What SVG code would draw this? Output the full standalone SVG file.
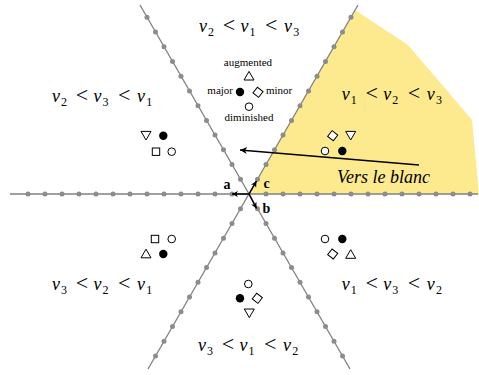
<svg xmlns="http://www.w3.org/2000/svg" xmlns:xlink="http://www.w3.org/1999/xlink" width="479" height="375" viewBox="0 0 479 375">
<style>
.ax{stroke:#808080;stroke-width:1.3;fill:none}
.dot{fill:#8c8c8c}
.vec{stroke:#000;stroke-width:1.5;fill:none}
.m{font-family:"Liberation Serif","DejaVu Serif",serif;fill:#000}
.v{font-style:italic;font-size:18px}
.s{font-size:12px}
.r{font-size:22px}
.lg{font-family:"Liberation Serif","DejaVu Serif",serif;font-size:11px;fill:#000}
.bl{font-family:"Liberation Serif","DejaVu Serif",serif;font-size:14px;font-weight:bold;fill:#000}
.vb{font-family:"Liberation Serif","DejaVu Serif",serif;font-size:18px;font-style:italic;fill:#000}
.sym{stroke:#000;stroke-width:1;fill:#fff}
.fill{fill:#000}
</style>
<defs>
<marker id="ah" markerWidth="10" markerHeight="10" viewBox="-8 -5 10 10" refX="0" refY="0" orient="auto" markerUnits="userSpaceOnUse">
<path d="M0,0 L-7,-3.5 L-5,0 L-7,3.5 Z" fill="#000"/>
</marker>
<marker id="ahs" markerWidth="8" markerHeight="8" viewBox="-7 -4 8 8" refX="0" refY="0" orient="auto" markerUnits="userSpaceOnUse">
<path d="M0,0 L-6,-3 L-4.3,0 L-6,3 Z" fill="#000"/>
</marker>
<circle id="fc" r="4.2" class="fill"/>
<circle id="oc" r="3.8" class="sym"/>
<polygon id="tu" points="0,-4.3 5,4.3 -5,4.3" class="sym"/>
<polygon id="td" points="-5,-4.3 5,-4.3 0,4.3" class="sym"/>
<rect id="sq" x="-3.7" y="-3.7" width="7.4" height="7.4" class="sym"/>
<rect id="dm" x="-3.6" y="-3.6" width="7.2" height="7.2" class="sym" transform="rotate(38)"/>
</defs>

<g id="region-yellow">
<polygon points="249,194 355,10 408,45 472,120 479,194" fill="#fde98e"/>
</g>

<g id="connectors">
<line class="ax" x1="10" y1="194" x2="478" y2="194"/>
<line class="ax" x1="140" y1="5" x2="350" y2="369"/>
<line class="ax" x1="358" y1="5" x2="148" y2="369"/>
<g id="dots">
<circle class="dot" r="2.5" cx="232" cy="194"/><circle class="dot" r="2.5" cx="215" cy="194"/><circle class="dot" r="2.5" cx="198" cy="194"/><circle class="dot" r="2.5" cx="181" cy="194"/><circle class="dot" r="2.5" cx="164" cy="194"/><circle class="dot" r="2.5" cx="147" cy="194"/><circle class="dot" r="2.5" cx="130" cy="194"/><circle class="dot" r="2.5" cx="113" cy="194"/><circle class="dot" r="2.5" cx="96" cy="194"/><circle class="dot" r="2.5" cx="79" cy="194"/><circle class="dot" r="2.5" cx="62" cy="194"/><circle class="dot" r="2.5" cx="45" cy="194"/><circle class="dot" r="2.5" cx="28" cy="194"/>
<circle class="dot" r="2.5" cx="266" cy="194"/><circle class="dot" r="2.5" cx="283" cy="194"/><circle class="dot" r="2.5" cx="300" cy="194"/><circle class="dot" r="2.5" cx="317" cy="194"/><circle class="dot" r="2.5" cx="334" cy="194"/><circle class="dot" r="2.5" cx="351" cy="194"/><circle class="dot" r="2.5" cx="368" cy="194"/><circle class="dot" r="2.5" cx="385" cy="194"/><circle class="dot" r="2.5" cx="402" cy="194"/><circle class="dot" r="2.5" cx="419" cy="194"/><circle class="dot" r="2.5" cx="436" cy="194"/><circle class="dot" r="2.5" cx="453" cy="194"/><circle class="dot" r="2.5" cx="470" cy="194"/>
<circle class="dot" r="2.5" cx="240.5" cy="179.28"/><circle class="dot" r="2.5" cx="232" cy="164.56"/><circle class="dot" r="2.5" cx="223.5" cy="149.83"/><circle class="dot" r="2.5" cx="215" cy="135.11"/><circle class="dot" r="2.5" cx="206.5" cy="120.39"/><circle class="dot" r="2.5" cx="198" cy="105.67"/><circle class="dot" r="2.5" cx="189.5" cy="90.95"/><circle class="dot" r="2.5" cx="181" cy="76.22"/><circle class="dot" r="2.5" cx="172.5" cy="61.5"/><circle class="dot" r="2.5" cx="164" cy="46.78"/><circle class="dot" r="2.5" cx="155.5" cy="32.06"/><circle class="dot" r="2.5" cx="147" cy="17.34"/>
<circle class="dot" r="2.5" cx="257.5" cy="179.28"/><circle class="dot" r="2.5" cx="266" cy="164.56"/><circle class="dot" r="2.5" cx="274.5" cy="149.83"/><circle class="dot" r="2.5" cx="283" cy="135.11"/><circle class="dot" r="2.5" cx="291.5" cy="120.39"/><circle class="dot" r="2.5" cx="300" cy="105.67"/><circle class="dot" r="2.5" cx="308.5" cy="90.95"/><circle class="dot" r="2.5" cx="317" cy="76.22"/><circle class="dot" r="2.5" cx="325.5" cy="61.5"/><circle class="dot" r="2.5" cx="334" cy="46.78"/><circle class="dot" r="2.5" cx="342.5" cy="32.06"/><circle class="dot" r="2.5" cx="351" cy="17.34"/>
<circle class="dot" r="2.5" cx="240.5" cy="208.72"/><circle class="dot" r="2.5" cx="232" cy="223.44"/><circle class="dot" r="2.5" cx="223.5" cy="238.17"/><circle class="dot" r="2.5" cx="215" cy="252.89"/><circle class="dot" r="2.5" cx="206.5" cy="267.61"/><circle class="dot" r="2.5" cx="198" cy="282.33"/><circle class="dot" r="2.5" cx="189.5" cy="297.05"/><circle class="dot" r="2.5" cx="181" cy="311.78"/><circle class="dot" r="2.5" cx="172.5" cy="326.5"/><circle class="dot" r="2.5" cx="164" cy="341.22"/><circle class="dot" r="2.5" cx="155.5" cy="355.94"/>
<circle class="dot" r="2.5" cx="257.5" cy="208.72"/><circle class="dot" r="2.5" cx="266" cy="223.44"/><circle class="dot" r="2.5" cx="274.5" cy="238.17"/><circle class="dot" r="2.5" cx="283" cy="252.89"/><circle class="dot" r="2.5" cx="291.5" cy="267.61"/><circle class="dot" r="2.5" cx="300" cy="282.33"/><circle class="dot" r="2.5" cx="308.5" cy="297.05"/><circle class="dot" r="2.5" cx="317" cy="311.78"/><circle class="dot" r="2.5" cx="325.5" cy="326.5"/><circle class="dot" r="2.5" cx="334" cy="341.22"/><circle class="dot" r="2.5" cx="342.5" cy="355.94"/>
</g>
<line class="vec" x1="249" y1="194" x2="232" y2="194" marker-end="url(#ahs)"/>
<line class="vec" x1="249" y1="194" x2="256.5" y2="181" marker-end="url(#ahs)"/>
<line class="vec" x1="249" y1="194" x2="256.5" y2="208.5" marker-end="url(#ahs)"/>
<line class="vec" x1="419" y1="165" x2="240" y2="150" marker-end="url(#ah)"/>
</g>

<g id="vector-labels">
<text class="bl" x="227" y="189" text-anchor="middle">a</text>
<text class="bl" x="266.5" y="188" text-anchor="middle">c</text>
<text class="bl" x="266.5" y="212.5" text-anchor="middle">b</text>
<text class="vb" x="337" y="183">Vers le blanc</text>
</g>

<g id="legend">
<text class="lg" x="248" y="66" text-anchor="middle">augmented</text>
<text class="lg" x="233" y="94" text-anchor="end">major</text>
<text class="lg" x="266" y="94">minor</text>
<text class="lg" x="249" y="121" text-anchor="middle">diminished</text>
<use xlink:href="#tu" x="249" y="75.7"/>
<use xlink:href="#fc" x="240" y="92"/>
<use xlink:href="#dm" x="258" y="92.3"/>
<use xlink:href="#oc" x="249" y="106.7"/>
</g>

<g id="cluster-top-left">
<use xlink:href="#td" x="146" y="135.7"/>
<use xlink:href="#fc" x="163.3" y="135.7"/>
<use xlink:href="#sq" x="156" y="151.7"/>
<use xlink:href="#oc" x="171.7" y="151.7"/>
</g>
<g id="cluster-top-right">
<use xlink:href="#dm" x="332.7" y="135.7"/>
<use xlink:href="#td" x="350.7" y="135.7"/>
<use xlink:href="#oc" x="325" y="151"/>
<use xlink:href="#fc" x="342.3" y="151"/>
</g>
<g id="cluster-bottom-left">
<use xlink:href="#sq" x="155" y="239"/>
<use xlink:href="#oc" x="171.7" y="239"/>
<use xlink:href="#tu" x="146" y="253.5"/>
<use xlink:href="#fc" x="163.3" y="254"/>
</g>
<g id="cluster-bottom-right">
<use xlink:href="#oc" x="325" y="239"/>
<use xlink:href="#fc" x="342.3" y="239"/>
<use xlink:href="#dm" x="332.7" y="254"/>
<use xlink:href="#tu" x="350.7" y="254"/>
</g>
<g id="cluster-bottom">
<use xlink:href="#oc" x="248.3" y="284"/>
<use xlink:href="#fc" x="240" y="298.3"/>
<use xlink:href="#dm" x="257.3" y="298.3"/>
<use xlink:href="#td" x="249.3" y="313.3"/>
</g>

<g id="order-labels">
<text class="m" y="32"><tspan class="v" x="199">v</tspan><tspan class="s" x="208" dy="4">2</tspan><tspan class="r" x="222.75" dy="-4">&lt;</tspan><tspan class="v" x="240.6">v</tspan><tspan class="s" x="249.6" dy="4">1</tspan><tspan class="r" x="265.05" dy="-4">&lt;</tspan><tspan class="v" x="284">v</tspan><tspan class="s" x="293.3" dy="4">3</tspan></text>
<text class="m" y="102"><tspan class="v" x="52">v</tspan><tspan class="s" x="61" dy="4">2</tspan><tspan class="r" x="75.75" dy="-4">&lt;</tspan><tspan class="v" x="93.6">v</tspan><tspan class="s" x="102.6" dy="4">3</tspan><tspan class="r" x="118.05" dy="-4">&lt;</tspan><tspan class="v" x="137">v</tspan><tspan class="s" x="146.3" dy="4">1</tspan></text>
<text class="m" y="100"><tspan class="v" x="341.7">v</tspan><tspan class="s" x="350.7" dy="4">1</tspan><tspan class="r" x="365.45" dy="-4">&lt;</tspan><tspan class="v" x="383.3">v</tspan><tspan class="s" x="392.3" dy="4">2</tspan><tspan class="r" x="407.75" dy="-4">&lt;</tspan><tspan class="v" x="426.7">v</tspan><tspan class="s" x="436" dy="4">3</tspan></text>
<text class="m" y="290"><tspan class="v" x="52">v</tspan><tspan class="s" x="61" dy="4">3</tspan><tspan class="r" x="75.75" dy="-4">&lt;</tspan><tspan class="v" x="93.6">v</tspan><tspan class="s" x="102.6" dy="4">2</tspan><tspan class="r" x="118.05" dy="-4">&lt;</tspan><tspan class="v" x="137">v</tspan><tspan class="s" x="146.3" dy="4">1</tspan></text>
<text class="m" y="290"><tspan class="v" x="341.7">v</tspan><tspan class="s" x="350.7" dy="4">1</tspan><tspan class="r" x="365.45" dy="-4">&lt;</tspan><tspan class="v" x="383.3">v</tspan><tspan class="s" x="392.3" dy="4">3</tspan><tspan class="r" x="407.75" dy="-4">&lt;</tspan><tspan class="v" x="426.7">v</tspan><tspan class="s" x="436" dy="4">2</tspan></text>
<text class="m" y="351"><tspan class="v" x="198">v</tspan><tspan class="s" x="207" dy="4">3</tspan><tspan class="r" x="221.75" dy="-4">&lt;</tspan><tspan class="v" x="239.6">v</tspan><tspan class="s" x="248.6" dy="4">1</tspan><tspan class="r" x="264.05" dy="-4">&lt;</tspan><tspan class="v" x="283">v</tspan><tspan class="s" x="292.3" dy="4">2</tspan></text>
</g>
</svg>
